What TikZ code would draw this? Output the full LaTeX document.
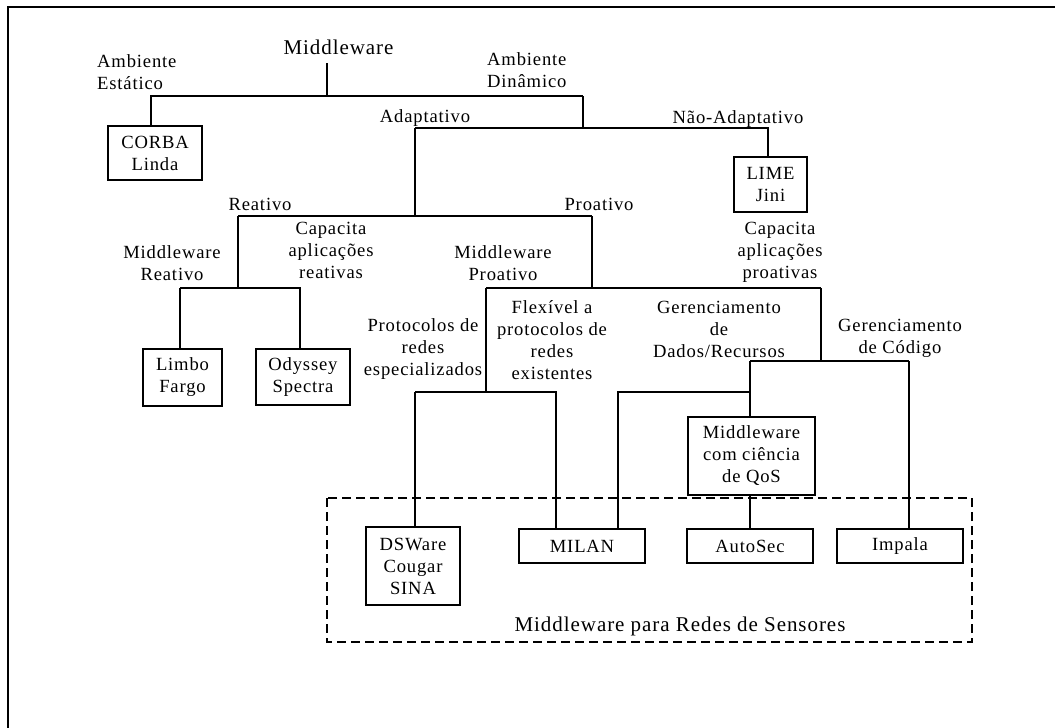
\documentclass[tikz,border=0pt]{standalone}
\usepackage{fontspec}
\setmainfont{Liberation Serif}[LetterSpace=4.5]
\usepackage{tikz}
\usetikzlibrary{positioning}

\begin{document}
\begin{tikzpicture}[x=1pt, y=-1pt,
  rotulo/.style={inner sep=0pt, align=center, font=\fontsize{18.6}{22}\selectfont},
  caixa/.style={draw, line width=1.1pt, inner sep=0pt, align=center, font=\fontsize{18.6}{22}\selectfont},
  liga/.style={line width=1.1pt},
  grupo/.style={line width=2.7pt, dash pattern=on 9pt off 5pt}]
\useasboundingbox (0,0) rectangle (1055,728);
\draw[line width=2pt] (7.5,728) |- (1055,6.7);

\node (mw) [rotulo, font=\fontsize{21}{25}\selectfont] at (338.5,47.8) {Middleware};
\node (estatico) [rotulo, align=left, anchor=west] at (97,71.7) {Ambiente\\Estático};
\node (dinamico) [rotulo, align=left, anchor=west] at (487,70.2) {Ambiente\\Dinâmico};
\node (adaptativo) [rotulo] at (425,117.7) {Adaptativo};
\node (naoadapt) [rotulo] at (738,118.7) {Não-Adaptativo};
\node (reativo) [rotulo] at (260,204.6) {Reativo};
\node (proativo) [rotulo] at (599,204.6) {Proativo};
\node (mwreat) [rotulo] at (172,263.2) {Middleware\\Reativo};
\node (capreat) [rotulo] at (331,250.7) {Capacita\\aplicações\\reativas};
\node (mwproat) [rotulo] at (503,263.2) {Middleware\\Proativo};
\node (capproat) [rotulo] at (780,252.7) {Capacita\\aplicações\\proativas};
\node (protesp) [rotulo] at (423,348.7) {Protocolos de\\redes\\especializados};
\node (flexivel) [rotulo] at (552,340.2) {Flexível a\\protocolos de\\redes\\existentes};
\node (gerdados) [rotulo] at (719,329.7) {Gerenciamento\\de\\Dados/Recursos};
\node (gercod) [rotulo] at (900,338.7) {Gerenciamento\\de Código};

\node (corba) [caixa, minimum width=94pt, minimum height=54pt] at (155,153) {CORBA\\Linda};
\node (lime) [caixa, minimum width=73pt, minimum height=55pt] at (770.5,184.5) {LIME\\Jini};
\node (limbo) [caixa, minimum width=79pt, minimum height=57pt] at (182.5,377.5) {Limbo\\Fargo};
\node (odyssey) [caixa, minimum width=94pt, minimum height=56pt] at (303,377) {Odyssey\\Spectra};
\node (qos) [caixa, minimum width=127pt, minimum height=78pt] at (751.5,456) {Middleware\\com ciência\\de QoS};
\node (dsware) [caixa, minimum width=94pt, minimum height=78pt] at (413,566) {DSWare\\Cougar\\SINA};
\node (milan) [caixa, minimum width=126pt, minimum height=34pt] at (582,546) {MILAN};
\node (autosec) [caixa, minimum width=126pt, minimum height=34pt] at (750,546) {AutoSec};
\node (impala) [caixa, minimum width=126pt, minimum height=34pt] at (900,546) {Impala};

\draw[grupo] (327,498) rectangle (972,642);
\node (redes) [rotulo, font=\fontsize{21}{25}\selectfont] at (680,626.2) {Middleware para Redes de Sensores};

% pontos de juncao
\coordinate (raiz) at (327,63);
\coordinate (j1) at (327,96);
\coordinate (estat) at (151,96);
\coordinate (dina) at (583,96);
\coordinate (adapt) at (415,128);
\coordinate (nadapt) at (768,128);
\coordinate (reat) at (238,216);
\coordinate (proat) at (592,216);
\coordinate (mreat) at (180,288);
\coordinate (capr) at (300,288);
\coordinate (mpro) at (486,288);
\coordinate (capp) at (821,288);
\coordinate (espec) at (415,392);
\coordinate (flex) at (556,392);
\coordinate (dados) at (750,361);
\coordinate (codigo) at (909,361);
\coordinate (recur) at (618,392);

\draw[liga] (raiz) -- (j1);
\draw[liga] (estat |- corba.north) |- (dina);
\draw[liga] (dina) |- (nadapt) -- (nadapt |- lime.north);
\draw[liga] (adapt) -- (dina |- adapt);
\draw[liga] (adapt) |- (reat);
\draw[liga] (adapt |- reat) -- (proat);
\draw[liga] (reat) |- (mreat);
\draw[liga] (mreat) -- (mreat |- limbo.north);
\draw[liga] (mreat) -- (capr) -- (capr |- odyssey.north);
\draw[liga] (proat) |- (capp);
\draw[liga] (mpro) -- (capp);
\draw[liga] (mpro) |- (espec);
\draw[liga] (espec) -- (espec |- dsware.north);
\draw[liga] (espec) -- (flex) -- (flex |- milan.north);
\draw[liga] (capp) |- (codigo);
\draw[liga] (dados) -- (codigo);
\draw[liga] (codigo) -- (codigo |- impala.north);
\draw[liga] (dados) -- (dados |- qos.north);
\draw[liga] (recur |- milan.north) |- (dados |- recur);
\draw[liga] (qos.south -| autosec) -- (autosec);
\end{tikzpicture}
\end{document}
